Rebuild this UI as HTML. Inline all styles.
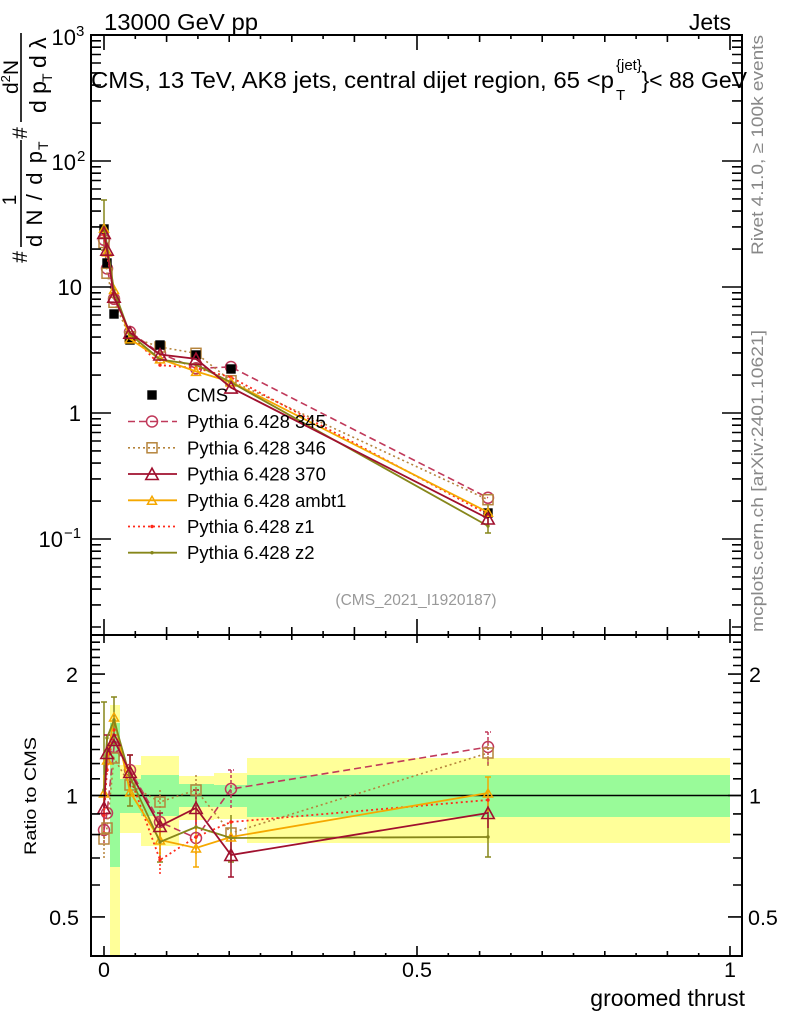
<!DOCTYPE html>
<html><head><meta charset="utf-8"><style>html,body{margin:0;padding:0;background:#fff}svg{display:block}</style></head>
<body>
<svg width="786" height="1024" viewBox="0 0 786 1024" xmlns="http://www.w3.org/2000/svg" font-family="'Liberation Sans', Arial, sans-serif">
<defs>
<clipPath id="cTop"><rect x="91" y="35" width="651" height="600"/></clipPath>
<clipPath id="cRat"><rect x="91" y="635" width="651" height="321"/></clipPath>
<marker id="mCMS" markerUnits="userSpaceOnUse" markerWidth="12" markerHeight="12" refX="6" refY="6" overflow="visible"><rect x="1.3" y="1.3" width="9.4" height="9.4" fill="#000"/></marker>
<marker id="m345" markerUnits="userSpaceOnUse" markerWidth="14" markerHeight="14" refX="7" refY="7" overflow="visible"><circle cx="7" cy="7" r="5.5" fill="none" stroke="#c0395a" stroke-width="1.5"/></marker>
<marker id="m346" markerUnits="userSpaceOnUse" markerWidth="14" markerHeight="14" refX="7" refY="7" overflow="visible"><rect x="2" y="2" width="10" height="10" fill="none" stroke="#b5843c" stroke-width="1.5"/></marker>
<marker id="m370" markerUnits="userSpaceOnUse" markerWidth="14" markerHeight="14" refX="7" refY="7" overflow="visible"><path d="M0.8,12.5 L7,1.2 L13.2,12.5 Z" fill="none" stroke="#a0102e" stroke-width="1.6"/></marker>
<marker id="mamb" markerUnits="userSpaceOnUse" markerWidth="14" markerHeight="14" refX="7" refY="7" overflow="visible"><path d="M2.5,11 L7,3 L11.5,11 Z" fill="none" stroke="#f5a800" stroke-width="1.5"/></marker>
<marker id="mz1" markerUnits="userSpaceOnUse" markerWidth="6" markerHeight="6" refX="3" refY="3" overflow="visible"><circle cx="3" cy="3" r="1.7" fill="#ff2a1a"/></marker>
<marker id="mz2" markerUnits="userSpaceOnUse" markerWidth="6" markerHeight="6" refX="3" refY="3" overflow="visible"><circle cx="3" cy="3" r="1.7" fill="#86861a"/></marker>
</defs>
<rect width="786" height="1024" fill="#fff"/>

<!-- ratio bands -->
<g clip-path="url(#cRat)">
<rect x="110" y="705" width="10" height="251" fill="#ffff99"/>
<rect x="110" y="723" width="10" height="144" fill="#99fb99"/>
<rect x="120" y="765" width="21" height="68" fill="#ffff99"/>
<rect x="120" y="779" width="21" height="34" fill="#99fb99"/>
<rect x="141" y="756" width="38" height="90" fill="#ffff99"/>
<rect x="141" y="775" width="38" height="41" fill="#99fb99"/>
<rect x="179" y="776" width="35" height="44" fill="#ffff99"/>
<rect x="179" y="784" width="35" height="23" fill="#99fb99"/>
<rect x="214" y="773" width="33" height="46" fill="#ffff99"/>
<rect x="214" y="785" width="33" height="22" fill="#99fb99"/>
<rect x="247" y="758" width="483" height="85" fill="#ffff99"/>
<rect x="247" y="775" width="483" height="42" fill="#99fb99"/>
<line x1="91" y1="795.5" x2="742" y2="795.5" stroke="#000" stroke-width="1.5"/>

<!-- ratio error bars -->
<path d="M104 702V790M101 702h6M114 697V745M111 697h6M130 755V806M127 755h6M127 806h6M160 822V862M157 862h6M231 815V862M228 862h6M488 815V857M485 857h6" stroke="#86861a" stroke-width="1.5" fill="none"/>
<path d="M104 790V826M107 735V772M104 735h6M130 755V790M127 755h6M160 813V838M157 813h6M196 790V825M193 790h6M231 835V877M228 877h6M488 800V828" stroke="#a0102e" stroke-width="1.5" fill="none"/>
<path d="M196 826V850M231 770V808M228 770h6M488 732V765M485 732h6M104 815V845" stroke="#c0395a" stroke-width="1.5" fill="none" stroke-dasharray="3 2"/>
<path d="M160 840V875M196 820V855M104 795V835" stroke="#ff2a1a" stroke-width="1.5" fill="none" stroke-dasharray="2 2"/>
<path d="M196 828V867M193 867h6M488 777V812M485 777h6M160 825V855M104 775V810" stroke="#f5a800" stroke-width="1.5" fill="none"/>
<path d="M196 775V805M488 740V767M160 790V813M104 820V858" stroke="#b5843c" stroke-width="1.5" fill="none" stroke-dasharray="2 2"/>

<!-- ratio series -->
<polyline points="104,830 107,813 114,747 130,770 160,822 196,838 231,789 488,747" fill="none" stroke="#c0395a" stroke-width="1.6" stroke-dasharray="7 4" marker-start="url(#m345)" marker-mid="url(#m345)" marker-end="url(#m345)"/>
<polyline points="104,839 107,828 114,758 130,785 160,802 196,790 231,833 488,753" fill="none" stroke="#b5843c" stroke-width="1.6" stroke-dasharray="2 3" marker-start="url(#m346)" marker-mid="url(#m346)" marker-end="url(#m346)"/>
<polyline points="104,815 107,770 114,730 130,777 160,860 196,837 231,822 488,800" fill="none" stroke="#ff2a1a" stroke-width="1.8" stroke-dasharray="2 3" marker-start="url(#mz1)" marker-mid="url(#mz1)" marker-end="url(#mz1)"/>
<polyline points="104,793 107,760 114,717 130,792 160,840 196,848 231,837 488,793" fill="none" stroke="#f5a800" stroke-width="1.8" marker-start="url(#mamb)" marker-mid="url(#mamb)" marker-end="url(#mamb)"/>
<polyline points="104,790 107,738 114,720 130,777 160,842 196,827 231,838 488,837" fill="none" stroke="#86861a" stroke-width="1.8" marker-start="url(#mz2)" marker-mid="url(#mz2)" marker-end="url(#mz2)"/>
<polyline points="104,808 107,753 114,740 130,772 160,826 196,808 231,855 488,813" fill="none" stroke="#a0102e" stroke-width="1.8" marker-start="url(#m370)" marker-mid="url(#m370)" marker-end="url(#m370)"/>
</g>

<!-- main panel series -->
<g clip-path="url(#cTop)">
<path d="M104 200V250M101 200h6M101 250h6M488 505V533M485 533h6" stroke="#86861a" stroke-width="1.5" fill="none"/>
<path d="M488 510V527" stroke="#a0102e" stroke-width="1.5"/>
<polyline points="104,239.8 107,268.5 114,298.8 130,332 160,353.3 196,368.3 231,367 488,497.8" fill="none" stroke="#c0395a" stroke-width="1.6" stroke-dasharray="7 4" marker-start="url(#m345)" marker-mid="url(#m345)" marker-end="url(#m345)"/>
<polyline points="104,242.6 107,273.2 114,302.3 130,336.7 160,347 196,353.3 231,380.7 488,499.7" fill="none" stroke="#b5843c" stroke-width="1.6" stroke-dasharray="2 3" marker-start="url(#m346)" marker-mid="url(#m346)" marker-end="url(#m346)"/>
<polyline points="104,229 107,263 114,314 130,340 160,345 196,355 231,369 488,513" fill="none" stroke="none" marker-start="url(#mCMS)" marker-mid="url(#mCMS)" marker-end="url(#mCMS)"/>
<polyline points="104,235.1 107,255 114,293.5 130,334.2 160,365.1 196,368 231,377.3 488,514.4" fill="none" stroke="#ff2a1a" stroke-width="1.8" stroke-dasharray="2 3" marker-start="url(#mz1)" marker-mid="url(#mz1)" marker-end="url(#mz1)"/>
<polyline points="104,228.2 107,251.9 114,289.5 130,338.9 160,358.9 196,371.4 231,382 488,512.2" fill="none" stroke="#f5a800" stroke-width="1.8" marker-start="url(#mamb)" marker-mid="url(#mamb)" marker-end="url(#mamb)"/>
<polyline points="104,227.3 107,245 114,290.4 130,334.2 160,359.5 196,364.8 231,382.3 488,526" fill="none" stroke="#86861a" stroke-width="1.8" marker-start="url(#mz2)" marker-mid="url(#mz2)" marker-end="url(#mz2)"/>
<polyline points="104,232.9 107,249.7 114,296.7 130,332.7 160,354.5 196,358.9 231,387.6 488,518.5" fill="none" stroke="#a0102e" stroke-width="1.8" marker-start="url(#m370)" marker-mid="url(#m370)" marker-end="url(#m370)"/>
</g>

<!-- legend -->
<g font-size="18.5" fill="#000">
<polyline points="140,395 152,395 164,395" stroke="none" fill="none" marker-mid="url(#mCMS)"/>
<text x="187" y="401.5">CMS</text>
<polyline points="128,421.5 152,421.5 177,421.5" fill="none" stroke="#c0395a" stroke-width="1.6" stroke-dasharray="7 4" marker-mid="url(#m345)"/>
<text x="187" y="428">Pythia 6.428 345</text>
<polyline points="128,447.8 152,447.8 177,447.8" fill="none" stroke="#b5843c" stroke-width="1.6" stroke-dasharray="2 3" marker-mid="url(#m346)"/>
<text x="187" y="454.3">Pythia 6.428 346</text>
<polyline points="128,474 152,474 177,474" fill="none" stroke="#a0102e" stroke-width="1.8" marker-mid="url(#m370)"/>
<text x="187" y="480.5">Pythia 6.428 370</text>
<polyline points="128,500.3 152,500.3 177,500.3" fill="none" stroke="#f5a800" stroke-width="1.8" marker-mid="url(#mamb)"/>
<text x="187" y="506.8">Pythia 6.428 ambt1</text>
<polyline points="128,526.5 152,526.5 177,526.5" fill="none" stroke="#ff2a1a" stroke-width="1.8" stroke-dasharray="2 3" marker-mid="url(#mz1)"/>
<text x="187" y="533">Pythia 6.428 z1</text>
<polyline points="128,552.7 152,552.7 177,552.7" fill="none" stroke="#86861a" stroke-width="1.8" marker-mid="url(#mz2)"/>
<text x="187" y="559.2">Pythia 6.428 z2</text>
</g>

<text x="416" y="605" font-size="15.5" fill="#999" text-anchor="middle">(CMS_2021_I1920187)</text>

<!-- frame -->
<rect x="91" y="35" width="651" height="921" fill="none" stroke="#000" stroke-width="2"/>
<line x1="91" y1="635" x2="742" y2="635" stroke="#000" stroke-width="2"/>

<!-- ticks -->
<g stroke="#000" stroke-width="1.6" fill="none">
<path d="M91 161h20M91 287h20M91 413h20M91 539h20"/>
<path d="M91 40.8h10M91 47.2h10M91 54.5h10M91 63h10M91 72.9h10M91 85.1h10M91 100.9h10M91 123.1h10M91 166.8h10M91 173.2h10M91 180.5h10M91 189h10M91 198.9h10M91 211.1h10M91 226.9h10M91 249.1h10M91 292.8h10M91 299.2h10M91 306.5h10M91 315h10M91 324.9h10M91 337.1h10M91 352.9h10M91 375.1h10M91 418.8h10M91 425.2h10M91 432.5h10M91 441h10M91 450.9h10M91 463.1h10M91 478.9h10M91 501.1h10M91 544.8h10M91 551.2h10M91 558.5h10M91 567h10M91 576.9h10M91 589.1h10M91 604.9h10M91 627h10"/>
<path d="M742 161h-20M742 287h-20M742 413h-20M742 539h-20"/>
<path d="M742 40.8h-10M742 47.2h-10M742 54.5h-10M742 63h-10M742 72.9h-10M742 85.1h-10M742 100.9h-10M742 123.1h-10M742 166.8h-10M742 173.2h-10M742 180.5h-10M742 189h-10M742 198.9h-10M742 211.1h-10M742 226.9h-10M742 249.1h-10M742 292.8h-10M742 299.2h-10M742 306.5h-10M742 315h-10M742 324.9h-10M742 337.1h-10M742 352.9h-10M742 375.1h-10M742 418.8h-10M742 425.2h-10M742 432.5h-10M742 441h-10M742 450.9h-10M742 463.1h-10M742 478.9h-10M742 501.1h-10M742 544.8h-10M742 551.2h-10M742 558.5h-10M742 567h-10M742 576.9h-10M742 589.1h-10M742 604.9h-10M742 627h-10"/>
<path d="M104 635v-16M417 635v-16M730 635v-16M166.6 635v-8M229.2 635v-8M291.8 635v-8M354.4 635v-8M479.6 635v-8M542.2 635v-8M604.8 635v-8M667.4 635v-8M135.3 635v-4M197.9 635v-4M260.5 635v-4M323.1 635v-4M385.7 635v-4M448.3 635v-4M510.9 635v-4M573.5 635v-4M636.1 635v-4M698.7 635v-4"/>
<path d="M104 35v15M417 35v15M730 35v15M166.6 35v7M229.2 35v7M291.8 35v7M354.4 35v7M479.6 35v7M542.2 35v7M604.8 35v7M667.4 35v7M135.3 35v4M197.9 35v4M260.5 35v4M323.1 35v4M385.7 35v4M448.3 35v4M510.9 35v4M573.5 35v4M636.1 35v4M698.7 35v4"/>
<path d="M104 635v8M417 635v8M730 635v8M166.6 635v5M229.2 635v5M291.8 635v5M354.4 635v5M479.6 635v5M542.2 635v5M604.8 635v5M667.4 635v5M135.3 635v3M197.9 635v3M260.5 635v3M323.1 635v3M385.7 635v3M448.3 635v3M510.9 635v3M573.5 635v3M636.1 635v3M698.7 635v3"/>
<path d="M104 956v-10M417 956v-10M730 956v-10M166.6 956v-5M229.2 956v-5M291.8 956v-5M354.4 956v-5M479.6 956v-5M542.2 956v-5M604.8 956v-5M667.4 956v-5M135.3 956v-3M197.9 956v-3M260.5 956v-3M323.1 956v-3M385.7 956v-3M448.3 956v-3M510.9 956v-3M573.5 956v-3M636.1 956v-3M698.7 956v-3"/>
<path d="M91 674.1h14M91 795.5h14M91 916.9h14M742 674.1h-14M742 795.5h-14M742 916.9h-14"/>
<path d="M91 642.2h9M91 649.6h9M91 657.4h9M91 665.5h9M91 683.1h9M91 692.5h9M91 702.6h9M91 713.2h9M91 724.5h9M91 736.6h9M91 749.5h9M91 763.6h9M91 778.8h9M91 813.9h9M91 834.6h9M91 858h9M91 885h9M742 642.2h-9M742 649.6h-9M742 657.4h-9M742 665.5h-9M742 683.1h-9M742 692.5h-9M742 702.6h-9M742 713.2h-9M742 724.5h-9M742 736.6h-9M742 749.5h-9M742 763.6h-9M742 778.8h-9M742 813.9h-9M742 834.6h-9M742 858h-9M742 885h-9"/>
</g>

<!-- titles -->
<text x="104" y="30" font-size="23" textLength="154" lengthAdjust="spacingAndGlyphs">13000 GeV pp</text>
<text x="731" y="30" font-size="23" text-anchor="end">Jets</text>
<text x="91" y="88" font-size="23" textLength="523" lengthAdjust="spacingAndGlyphs">CMS, 13 TeV, AK8 jets, central dijet region, 65 &lt;p</text>
<text x="616" y="70" font-size="15">{jet}</text>
<text x="616" y="100" font-size="15">T</text>
<text x="747" y="88" font-size="23" text-anchor="end">}&lt; 88 GeV</text>

<!-- y tick labels top -->
<g font-size="22" fill="#000">
<text x="76" y="45" text-anchor="end">10</text><text x="76" y="36" font-size="15">3</text>
<text x="76" y="170" text-anchor="end">10</text><text x="77" y="161" font-size="15">2</text>
<text x="82" y="295" text-anchor="end">10</text>
<text x="81" y="421" text-anchor="end">1</text>
<text x="63" y="547" text-anchor="end">10</text><text x="64" y="538" font-size="15">−1</text>
</g>
<!-- ratio y labels -->
<g font-size="21.5" fill="#000">
<text x="78" y="682" text-anchor="end">2</text>
<text x="78" y="803.5" text-anchor="end">1</text>
<text x="79" y="925" text-anchor="end">0.5</text>
<text x="749" y="682">2</text>
<text x="749" y="803.5">1</text>
<text x="748" y="925">0.5</text>
</g>
<!-- x labels -->
<g font-size="21.5" fill="#000" text-anchor="middle">
<text x="104" y="977">0</text>
<text x="417" y="977">0.5</text>
<text x="730" y="977">1</text>
</g>
<text x="745" y="1006" font-size="23" text-anchor="end">groomed thrust</text>

<!-- rotated labels -->
<g transform="rotate(-90)">
<text x="-855" y="36" font-size="17" textLength="118" lengthAdjust="spacingAndGlyphs">Ratio to CMS</text>
<text x="-255" y="763" font-size="17" fill="#888" textLength="220" lengthAdjust="spacingAndGlyphs">Rivet 4.1.0, ≥ 100k events</text>
<text x="-632" y="763" font-size="17" fill="#888" textLength="302" lengthAdjust="spacingAndGlyphs">mcplots.cern.ch [arXiv:2401.10621]</text>
<g fill="#000">
<text x="-257" y="27" text-anchor="middle" font-size="21">#</text>
<text x="-200" y="16" text-anchor="middle" font-size="19">1</text>
<text x="-247" y="42" font-size="22" textLength="96" lengthAdjust="spacing">d N / d p</text>
<text x="-150" y="48" font-size="14">T</text>
<text x="-133" y="27" text-anchor="middle" font-size="21">#</text>
<text x="-94" y="18" font-size="21">d<tspan font-size="13" dy="-8">2</tspan><tspan dy="8">N</tspan></text>
<text x="-113" y="46" font-size="23">d p</text>
<text x="-82" y="52" font-size="14">T</text>
<text x="-68" y="46" font-size="23">d λ</text>
</g>
</g>
<line x1="21" y1="140" x2="21" y2="247" stroke="#000" stroke-width="1.6"/>
<line x1="21" y1="33" x2="21" y2="122" stroke="#000" stroke-width="1.6"/>
</svg>
</body></html>
